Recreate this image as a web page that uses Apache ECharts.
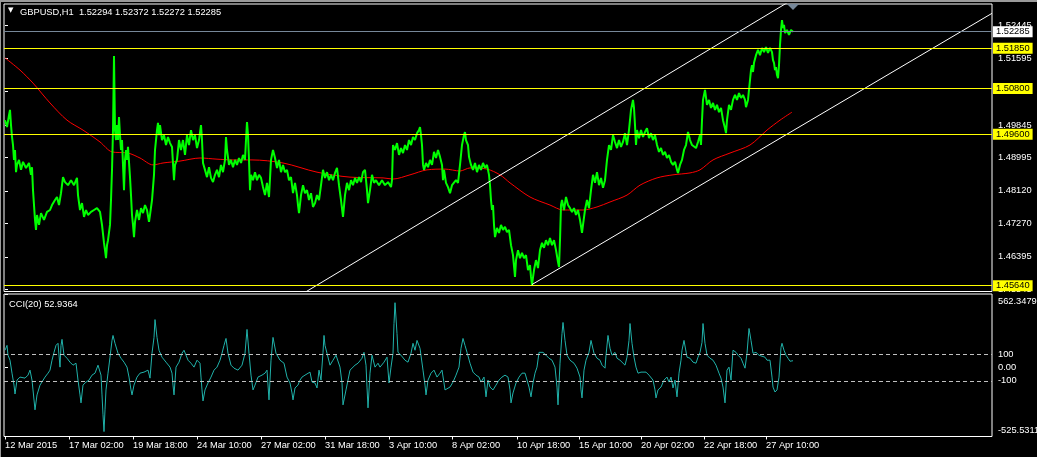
<!DOCTYPE html>
<html>
<head>
<meta charset="utf-8">
<script src="https://cdn.jsdelivr.net/npm/echarts@6/dist/echarts.min.js"></script>
<style>
  html, body { margin: 0; padding: 0; background: #000; }
  #chart { position: absolute; left: 0; top: 0; width: 1037px; height: 457px; }
  .frame { position: absolute; background: #9a9a9a; z-index: 5; }
</style>
</head>
<body>
<div id="chart"></div>
<div class="frame" style="left:0;top:0;width:1037px;height:2px;"></div>
<div class="frame" style="left:0;top:0;width:1px;height:457px;"></div>
<script>
// ---------------- DATA ----------------
const symbolHeader = 'GBPUSD,H1  1.52294 1.52372 1.52272 1.52285';
const cciHeader = 'CCI(20) 52.9364';

// time axis: bar index -> tick label
const timeTickBars = [0, 64, 128, 192, 256, 320, 384, 447, 512, 574, 636, 699, 761];
const timeTickLabels = ['12 Mar 2015', '17 Mar 02:00', '19 Mar 18:00', '24 Mar 10:00', '27 Mar 02:00',
  '31 Mar 18:00', '3 Apr 10:00', '8 Apr 02:00', '10 Apr 18:00', '15 Apr 10:00', '20 Apr 02:00',
  '22 Apr 18:00', '27 Apr 10:00'];
const totalBars = 987;

// price axis
const priceMin = 1.45488, priceMax = 1.53009;
const priceTicks = [1.52445, 1.51595, 1.50720, 1.49845, 1.48995, 1.48120, 1.47270, 1.46395, 1.45545];
const levels = [1.51850, 1.50800, 1.49600, 1.45640];
const bidPrice = 1.52285;

// CCI axis
const cciMin = -525.5311, cciMax = 562.3479;
const cciTicks = [562.3479, 100, 0, -100, -525.5311];
const cciTickLabels = ['562.3479', '100', '0.00', '-100', '-525.5311'];
const cciLevels = [100, -100];

// price path [bar, price]
const gbpusd = [[0,1.4997],[2,1.4979],[4,1.5010],[5,1.5024],[6,1.4984],[7,1.4953],[8,1.4932],[9,1.4893],[10,1.4919],[11,1.4861],[12,1.4880],[14,1.4893],[16,1.4867],[18,1.4888],[21,1.4872],[24,1.4885],[26,1.4854],[27,1.4874],[28,1.4814],[29,1.4775],[30,1.4736],[31,1.4710],[32,1.4749],[34,1.4723],[36,1.4754],[39,1.4736],[42,1.4757],[45,1.4762],[47,1.4775],[50,1.4788],[52,1.4796],[54,1.4775],[56,1.4806],[57,1.4827],[58,1.4848],[60,1.4835],[63,1.4827],[66,1.4840],[69,1.4827],[72,1.4846],[73,1.4801],[75,1.4762],[77,1.4780],[79,1.4744],[81,1.4762],[83,1.4749],[86,1.4757],[89,1.4762],[92,1.4767],[95,1.4757],[97,1.4723],[99,1.4676],[100,1.4657],[101,1.4636],[102,1.4670],[103,1.4683],[105,1.4723],[106,1.4788],[107,1.4867],[108,1.4971],[109,1.5165],[110,1.4971],[111,1.4945],[112,1.4984],[113,1.4945],[114,1.5005],[115,1.4958],[116,1.4919],[117,1.4945],[118,1.4880],[119,1.4814],[120,1.4893],[121,1.4919],[122,1.4893],[123,1.4927],[125,1.4848],[126,1.4801],[127,1.4749],[128,1.4723],[129,1.4691],[130,1.4731],[132,1.4762],[134,1.4736],[136,1.4767],[138,1.4754],[140,1.4775],[142,1.4762],[144,1.4731],[145,1.4749],[147,1.4788],[149,1.4854],[150,1.4919],[151,1.4945],[152,1.4971],[153,1.4990],[154,1.4958],[155,1.4984],[157,1.4945],[159,1.4958],[161,1.4932],[163,1.4953],[165,1.4937],[167,1.4927],[169,1.4840],[170,1.4880],[172,1.4893],[174,1.4945],[176,1.4919],[178,1.4945],[180,1.4906],[182,1.4958],[184,1.4932],[186,1.4971],[188,1.4945],[190,1.4958],[192,1.4924],[194,1.4945],[196,1.4984],[197,1.4945],[198,1.4885],[200,1.4867],[202,1.4848],[204,1.4874],[206,1.4846],[208,1.4835],[210,1.4854],[212,1.4867],[214,1.4848],[216,1.4880],[218,1.4861],[220,1.4893],[221,1.4953],[222,1.4919],[224,1.4880],[226,1.4893],[228,1.4874],[230,1.4893],[232,1.4880],[234,1.4898],[236,1.4885],[238,1.4906],[240,1.4893],[241,1.4945],[242,1.4992],[243,1.4958],[244,1.4893],[245,1.4814],[246,1.4854],[248,1.4840],[250,1.4861],[252,1.4840],[254,1.4854],[256,1.4846],[258,1.4822],[260,1.4801],[262,1.4833],[264,1.4796],[266,1.4893],[268,1.4919],[270,1.4898],[272,1.4872],[274,1.4893],[276,1.4861],[278,1.4880],[280,1.4861],[282,1.4867],[284,1.4840],[286,1.4848],[288,1.4806],[290,1.4833],[292,1.4801],[293,1.4775],[294,1.4754],[296,1.4801],[298,1.4827],[300,1.4806],[302,1.4814],[304,1.4788],[306,1.4806],[308,1.4770],[310,1.4780],[312,1.4801],[314,1.4788],[316,1.4827],[318,1.4867],[320,1.4846],[322,1.4861],[324,1.4840],[326,1.4854],[328,1.4840],[330,1.4859],[332,1.4872],[334,1.4827],[336,1.4788],[338,1.4744],[340,1.4801],[342,1.4833],[344,1.4814],[346,1.4840],[348,1.4827],[350,1.4846],[352,1.4833],[354,1.4848],[356,1.4835],[358,1.4861],[360,1.4867],[362,1.4814],[363,1.4780],[365,1.4814],[367,1.4854],[369,1.4833],[371,1.4840],[374,1.4827],[377,1.4840],[380,1.4827],[383,1.4835],[386,1.4822],[387,1.4840],[388,1.4932],[390,1.4919],[392,1.4937],[394,1.4906],[396,1.4924],[398,1.4911],[400,1.4932],[402,1.4919],[404,1.4945],[406,1.4932],[408,1.4953],[410,1.4945],[412,1.4963],[414,1.4971],[415,1.4979],[416,1.4958],[417,1.4932],[418,1.4880],[419,1.4867],[421,1.4885],[423,1.4874],[425,1.4893],[427,1.4880],[429,1.4914],[431,1.4898],[433,1.4919],[435,1.4901],[437,1.4880],[438,1.4840],[439,1.4867],[441,1.4833],[443,1.4822],[445,1.4806],[447,1.4827],[449,1.4822],[451,1.4840],[453,1.4833],[455,1.4880],[457,1.4932],[459,1.4958],[460,1.4966],[461,1.4945],[463,1.4932],[464,1.4901],[466,1.4880],[468,1.4867],[470,1.4885],[472,1.4861],[474,1.4880],[476,1.4867],[478,1.4885],[480,1.4872],[482,1.4880],[484,1.4854],[485,1.4827],[486,1.4788],[487,1.4762],[488,1.4775],[489,1.4723],[490,1.4691],[492,1.4715],[494,1.4702],[496,1.4723],[498,1.4710],[500,1.4718],[502,1.4704],[504,1.4710],[506,1.4670],[508,1.4644],[510,1.4587],[511,1.4631],[513,1.4657],[515,1.4636],[517,1.4650],[519,1.4636],[521,1.4644],[523,1.4605],[525,1.4618],[526,1.4587],[527,1.4566],[529,1.4605],[531,1.4631],[533,1.4610],[535,1.4657],[537,1.4676],[539,1.4663],[541,1.4683],[543,1.4670],[545,1.4689],[547,1.4670],[549,1.4683],[551,1.4657],[553,1.4626],[554,1.4613],[555,1.4683],[556,1.4775],[557,1.4788],[559,1.4762],[561,1.4796],[563,1.4775],[565,1.4767],[567,1.4757],[569,1.4767],[571,1.4749],[573,1.4762],[575,1.4736],[577,1.4702],[578,1.4723],[580,1.4762],[582,1.4788],[584,1.4767],[586,1.4814],[588,1.4854],[590,1.4833],[592,1.4861],[594,1.4827],[596,1.4846],[598,1.4820],[600,1.4840],[602,1.4893],[604,1.4932],[606,1.4919],[608,1.4958],[610,1.4940],[612,1.4924],[614,1.4945],[616,1.4927],[618,1.4940],[620,1.4963],[622,1.4932],[624,1.4971],[626,1.5024],[628,1.5050],[629,1.5029],[630,1.4984],[631,1.4932],[632,1.4971],[634,1.4950],[636,1.4971],[638,1.4953],[640,1.4966],[642,1.4976],[644,1.4950],[646,1.4963],[648,1.4945],[650,1.4958],[652,1.4932],[654,1.4914],[656,1.4924],[658,1.4906],[660,1.4914],[662,1.4898],[664,1.4906],[666,1.4888],[668,1.4880],[670,1.4888],[672,1.4867],[673,1.4859],[675,1.4880],[677,1.4893],[679,1.4919],[681,1.4932],[683,1.4966],[685,1.4945],[687,1.4932],[689,1.4937],[691,1.4924],[693,1.4940],[695,1.4958],[696,1.4932],[697,1.4997],[698,1.5050],[700,1.5076],[702,1.5037],[704,1.5050],[706,1.5029],[708,1.5042],[710,1.5024],[712,1.5037],[714,1.5018],[716,1.5029],[718,1.4997],[720,1.4976],[721,1.4963],[722,1.4997],[724,1.5037],[726,1.5024],[728,1.5050],[730,1.5063],[732,1.5050],[734,1.5068],[736,1.5055],[738,1.5063],[740,1.5050],[741,1.5031],[743,1.5050],[744,1.5076],[745,1.5102],[746,1.5128],[747,1.5141],[748,1.5123],[749,1.5147],[751,1.5167],[753,1.5181],[755,1.5167],[757,1.5186],[759,1.5175],[761,1.5188],[763,1.5173],[765,1.5186],[767,1.5175],[768,1.5154],[769,1.5147],[770,1.5128],[771,1.5136],[772,1.5115],[773,1.5107],[774,1.5141],[775,1.5194],[776,1.5233],[777,1.5259],[778,1.5238],[779,1.5246],[780,1.5225],[782,1.5233],[784,1.5220],[786,1.5233],[788,1.52285]];

// moving average [bar, price]
const movingAverage = [[0,1.5160],[15,1.5128],[28,1.5094],[45,1.5042],[62,1.4997],[78,1.4971],[95,1.4940],[107,1.4914],[123,1.4911],[135,1.4898],[148,1.4880],[158,1.4885],[175,1.4890],[195,1.4898],[212,1.4895],[228,1.4893],[247,1.4893],[278,1.4885],[312,1.4861],[345,1.4848],[378,1.4846],[388,1.4843],[405,1.4854],[422,1.4867],[440,1.4869],[455,1.4864],[465,1.4872],[482,1.4869],[495,1.4854],[505,1.4833],[525,1.4796],[545,1.4775],[558,1.4762],[578,1.4762],[592,1.4770],[605,1.4783],[622,1.4801],[635,1.4827],[652,1.4846],[668,1.4854],[685,1.4859],[695,1.4867],[708,1.4893],[725,1.4911],[745,1.4932],[762,1.4971],[775,1.4997],[787,1.5018]];

// channel trend lines [bar, price]
const channelUpper = [[300,1.45466],[790,1.53165]];
const channelLower = [[527,1.45670],[987,1.52765]];

// CCI(20) [bar, value]
const cci = [[0,133],[2,170],[3,95],[5,57],[7,-42],[9,-133],[10,-201],[12,-95],[15,-72],[17,-57],[20,-80],[23,-57],[25,-19],[27,-95],[28,-170],[30,-322],[32,-208],[35,-133],[40,-72],[43,-42],[45,-19],[47,57],[49,117],[51,170],[53,186],[55,4],[56,170],[57,216],[59,95],[62,72],[65,42],[68,19],[71,34],[73,-95],[75,-208],[76,-269],[78,-133],[81,-110],[84,-95],[87,-57],[90,-42],[93,19],[95,34],[96,-57],[97,-208],[98,-360],[99,-488],[100,-322],[101,-170],[103,-42],[105,80],[107,208],[108,246],[110,186],[113,110],[116,72],[119,42],[122,4],[124,-72],[126,-170],[127,-208],[129,-133],[132,-72],[135,-42],[139,-34],[143,-19],[145,-80],[147,110],[149,231],[150,367],[152,231],[154,133],[157,80],[161,42],[165,4],[167,-42],[168,-133],[169,-208],[171,4],[174,42],[177,110],[179,133],[181,125],[183,57],[186,34],[189,4],[192,57],[195,34],[196,-72],[197,-170],[198,-254],[200,-170],[203,-117],[206,-72],[209,-19],[212,4],[215,57],[217,110],[219,170],[221,223],[223,110],[226,19],[229,-4],[233,-19],[237,19],[240,110],[242,292],[244,110],[246,-57],[248,-170],[250,-133],[253,-72],[257,-57],[260,-42],[262,-19],[264,-246],[266,57],[268,231],[271,110],[275,57],[279,34],[282,-72],[285,-117],[287,-193],[288,-246],[290,-155],[293,-133],[295,-95],[297,-72],[300,-57],[305,-34],[307,-110],[310,-117],[312,-155],[314,-19],[316,-95],[318,117],[319,246],[320,170],[322,110],[325,19],[328,57],[331,95],[335,4],[337,-117],[338,-284],[341,-170],[345,-19],[350,19],[353,34],[357,72],[359,117],[361,19],[362,-148],[363,-307],[365,-42],[367,95],[370,4],[373,34],[375,4],[379,42],[382,80],[384,-117],[386,4],[388,110],[389,337],[390,496],[392,261],[393,117],[396,95],[400,57],[403,42],[406,110],[408,186],[410,133],[412,208],[414,223],[415,148],[418,-19],[420,-133],[421,-208],[423,-95],[426,-42],[429,-19],[432,-72],[435,-42],[437,-19],[439,-117],[440,-170],[442,-170],[445,-148],[448,-110],[451,-57],[454,4],[456,148],[458,223],[460,170],[462,117],[465,34],[468,-34],[471,-57],[474,-72],[476,-110],[479,-72],[481,-223],[483,-95],[485,-148],[488,-170],[491,-133],[494,-95],[497,-72],[500,-57],[503,-72],[505,-170],[506,-269],[508,-193],[511,-117],[514,-72],[517,-42],[520,-42],[522,-34],[524,-148],[526,-223],[528,-117],[530,-42],[532,4],[534,117],[536,110],[538,117],[541,95],[544,72],[547,57],[550,4],[552,-148],[553,-284],[555,34],[557,261],[558,345],[560,208],[562,95],[565,57],[569,34],[572,-4],[575,-72],[576,-170],[577,-231],[579,-19],[581,57],[584,117],[586,208],[587,223],[589,110],[592,72],[595,57],[597,19],[600,-4],[601,95],[603,246],[605,148],[607,95],[610,117],[612,72],[615,57],[617,42],[620,19],[622,80],[624,208],[625,337],[627,186],[629,80],[631,4],[633,-42],[636,-34],[638,-19],[641,-34],[644,-57],[646,-72],[648,-95],[650,-170],[651,-231],[653,-170],[656,-148],[659,-95],[662,-72],[664,-110],[666,-72],[668,-155],[670,-95],[672,-223],[674,-42],[676,57],[677,133],[679,208],[680,223],[682,80],[685,72],[688,42],[691,34],[693,80],[695,117],[697,193],[698,337],[700,186],[702,95],[705,72],[708,57],[711,19],[714,-42],[716,-80],[718,-148],[720,-269],[722,-19],[724,4],[726,-95],[728,133],[731,117],[733,95],[736,72],[738,34],[740,-4],[742,110],[744,299],[746,208],[748,110],[751,117],[754,95],[757,87],[760,80],[762,57],[765,57],[767,-72],[768,-148],[770,-186],[772,-170],[774,-72],[776,155],[777,186],[779,133],[781,95],[783,72],[785,49],[788,52.9364]];

// ---------------- CHART ----------------
const FONT = 'Liberation Sans';
const FS = 9.3;
const chart = echarts.init(document.getElementById('chart'), null, { renderer: 'canvas' });

function findIndex(values, v) {
  for (let i = 0; i < values.length; i++) if (Math.abs(values[i] - v) < 1e-6) return i;
  return -1;
}

const lastBar = gbpusd[gbpusd.length - 1][0];

const option = {
  backgroundColor: '#000',
  animation: false,
  textStyle: { fontFamily: FONT },
  title: [
    { text: '▼', left: 8, top: 7, padding: 0,
      textStyle: { color: '#fff', fontSize: 7, fontFamily: 'DejaVu Sans', fontWeight: 'normal' } },
    { text: symbolHeader, left: 20, top: 6, padding: 0,
      textStyle: { color: '#fff', fontSize: FS, fontFamily: FONT, fontWeight: 'normal', lineHeight: 12 } },
    { text: cciHeader, left: 9, top: 298, padding: 0,
      textStyle: { color: '#fff', fontSize: FS, fontFamily: FONT, fontWeight: 'normal', lineHeight: 12 } }
  ],
  grid: [
    { left: 4, right: 45, top: 4, height: 287.5, show: true, borderColor: '#fff', borderWidth: 1,
      backgroundColor: 'transparent', containLabel: false, outerBoundsMode: 'none' },
    { left: 4, right: 45, top: 294, height: 142.5, show: true, borderColor: '#fff', borderWidth: 1,
      backgroundColor: 'transparent', containLabel: false, outerBoundsMode: 'none' }
  ],
  xAxis: [
    { gridIndex: 0, type: 'value', min: -1, max: totalBars, show: false },
    { gridIndex: 1, type: 'value', min: -1, max: totalBars,
      axisLine: { show: false, onZero: false }, splitLine: { show: false },
      axisTick: { show: true, customValues: timeTickBars, length: 3, lineStyle: { color: '#fff' } },
      axisLabel: { customValues: timeTickBars, color: '#fff', fontSize: FS, fontFamily: FONT, align: 'left', margin: 4,
        formatter: v => { const i = findIndex(timeTickBars, v); return i < 0 ? '' : timeTickLabels[i]; } } }
  ],
  yAxis: [
    { gridIndex: 0, type: 'value', position: 'right', min: priceMin, max: priceMax, scale: true,
      axisLine: { show: false }, splitLine: { show: false },
      axisTick: { show: true, customValues: priceTicks, length: 3, lineStyle: { color: '#fff' } },
      axisLabel: { customValues: priceTicks, color: '#fff', fontSize: FS, fontFamily: FONT, margin: 6,
        formatter: v => v.toFixed(5) } },
    { gridIndex: 1, type: 'value', position: 'right', min: cciMin, max: cciMax,
      axisLine: { show: false }, splitLine: { show: false },
      axisTick: { show: true, customValues: cciTicks, length: 3, lineStyle: { color: '#fff' } },
      axisLabel: { customValues: cciTicks, color: '#fff', fontSize: FS, fontFamily: FONT, margin: 6,
        formatter: v => {
          const i = findIndex(cciTicks, v);
          if (i < 0) return '';
          if (i === 0) return '{top|' + cciTickLabels[i] + '}';
          if (i === cciTicks.length - 1) return '{bot|' + cciTickLabels[i] + '}';
          return cciTickLabels[i];
        },
        rich: {
          top: { color: '#fff', fontSize: FS, fontFamily: FONT, padding: [15, 0, 0, 0] },
          bot: { color: '#fff', fontSize: FS, fontFamily: FONT, padding: [0, 0, 12, 0] }
        } } }
  ],
  series: [
    { name: 'MA', type: 'line', xAxisIndex: 0, yAxisIndex: 0, data: movingAverage, symbol: 'none', smooth: 0.3,
      lineStyle: { color: '#ff0000', width: 1 }, z: 2, silent: true },
    { name: 'GBPUSD', type: 'line', xAxisIndex: 0, yAxisIndex: 0, data: gbpusd, symbol: 'none',
      lineStyle: { color: '#00ff00', width: 2 }, z: 3, silent: true,
      markLine: {
        silent: true, symbol: ['none', 'none'], animation: false, precision: 5,
        data: levels.map(l => ({
          yAxis: l,
          lineStyle: { color: '#ffff00', width: 1, type: 'solid' },
          label: { show: true, position: 'end', distance: 1, formatter: () => l.toFixed(5),
            color: '#000', backgroundColor: '#ffff00', fontSize: FS, fontFamily: FONT,
            padding: [1, 3, 0, 3], lineHeight: 10 }
        })).concat([{
          yAxis: bidPrice,
          lineStyle: { color: '#778899', width: 1, type: 'solid' },
          label: { show: true, position: 'end', distance: 1, formatter: () => bidPrice.toFixed(5),
            color: '#000', backgroundColor: '#ffffff', fontSize: FS, fontFamily: FONT,
            padding: [1, 3, 0, 3], lineHeight: 10 }
        }])
      },
      markPoint: {
        silent: true,
        data: [{ coord: [lastBar, priceMax], symbol: 'triangle', symbolRotate: 180,
          symbolSize: [12, 6], symbolOffset: [0, 3], itemStyle: { color: '#778899' }, label: { show: false } }]
      }
    },
    { name: 'ChannelUpper', type: 'line', xAxisIndex: 0, yAxisIndex: 0, data: channelUpper, symbol: 'none',
      lineStyle: { color: '#ffffff', width: 1 }, z: 4, silent: true },
    { name: 'ChannelLower', type: 'line', xAxisIndex: 0, yAxisIndex: 0, data: channelLower, symbol: 'none',
      lineStyle: { color: '#ffffff', width: 1 }, z: 4, silent: true },
    { name: 'CCI', type: 'line', xAxisIndex: 1, yAxisIndex: 1, data: cci, symbol: 'none',
      lineStyle: { color: '#20b2aa', width: 1 }, z: 3, silent: true,
      markLine: {
        silent: true, symbol: ['none', 'none'], animation: false,
        lineStyle: { color: '#c0c0c0', width: 1, type: [4, 3] },
        label: { show: false },
        data: cciLevels.map(l => ({ yAxis: l }))
      }
    }
  ]
};
chart.setOption(option);
</script>
</body>
</html>
